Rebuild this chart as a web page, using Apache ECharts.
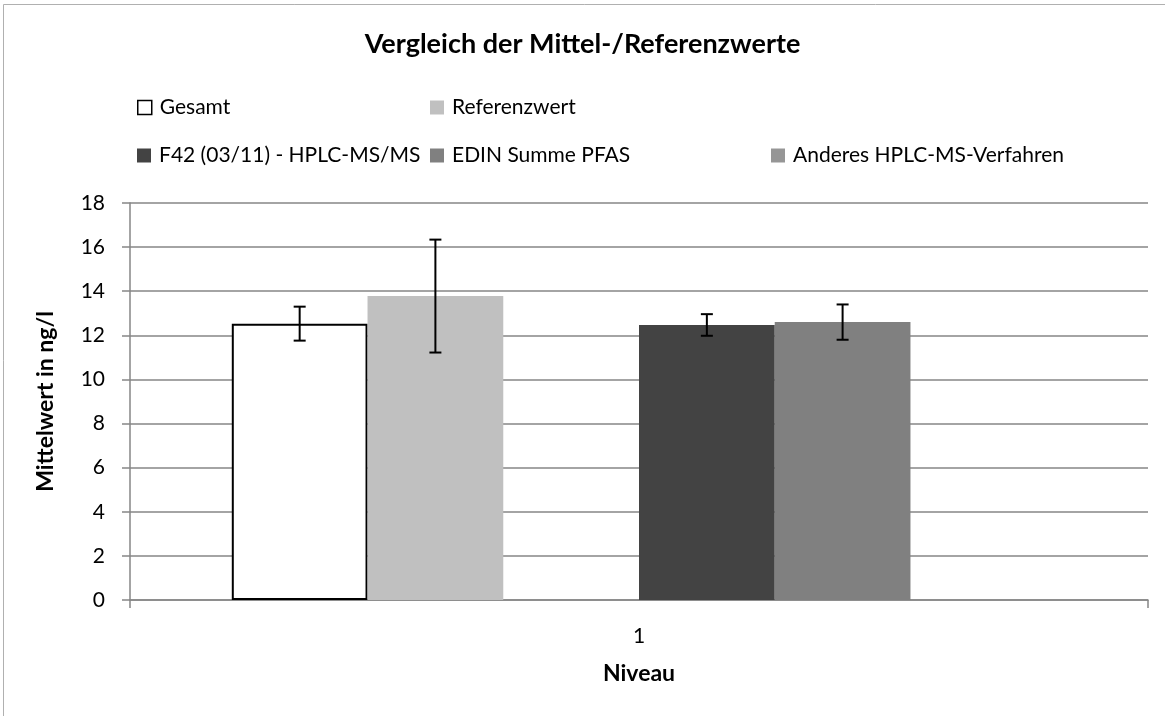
<!DOCTYPE html>
<html>
<head>
<meta charset="utf-8">
<script src="https://cdn.jsdelivr.net/npm/echarts@6/dist/echarts.min.js"></script>
<style>
html,body{margin:0;padding:0;background:#fff;}
#chart{width:1165px;height:716px;}
</style>
</head>
<body>
<div id="chart"></div>
<script>
// ---- data ----
var categories = ['1'];
var seriesNames = ['Gesamt', 'Referenzwert', '', 'F42 (03/11) - HPLC-MS/MS', 'EDIN Summe PFAS', 'Anderes HPLC-MS-Verfahren'];
var gesamtValues = [12.53];
var referenzValues = [13.78];
var hiddenValues = [null];
var f42Values = [12.47];
var edinValues = [12.6];
var anderesValues = [null];
var gesamtErrors = [0.77];
var referenzErrors = [2.56];
var f42Errors = [0.49];
var edinErrors = [0.8];
var anderesErrors = [null];
var yTicks = [0, 2, 4, 6, 8, 10, 12, 14, 16, 18];

var allValues = [gesamtValues, referenzValues, hiddenValues, f42Values, edinValues, anderesValues];
var allErrors = [gesamtErrors, referenzErrors, null, f42Errors, edinErrors, anderesErrors];
var colors = ['#ffffff', '#c0c0c0', '#ffffff', '#434343', '#808080', '#969696'];

var FONT = 'Lato';
var nSlots = seriesNames.length;
var catGap = 0.2;

var series = [];
for (var i = 0; i < nSlots; i++) {
  var s = {
    name: seriesNames[i],
    type: 'bar',
    data: allValues[i],
    barGap: '0%',
    barCategoryGap: '20%',
    itemStyle: { color: colors[i], borderWidth: 0 },
    emphasis: { disabled: true },
    z: 2
  };
  if (i === 0) s.itemStyle = { color: '#ffffff', borderColor: '#000000', borderWidth: 2 };
  series.push(s);
}

// error bars data built from arrays
var errData = [];
for (var i = 0; i < nSlots; i++) {
  if (!allErrors[i]) continue;
  for (var c = 0; c < categories.length; c++) {
    if (allValues[i][c] == null || allErrors[i][c] == null) continue;
    errData.push([c, allValues[i][c], allErrors[i][c], i]);
  }
}
series.push({
  type: 'custom',
  name: 'err',
  data: errData,
  z: 10,
  silent: true,
  renderItem: function (params, api) {
    var c = api.value(0), v = api.value(1), e = api.value(2), slot = api.value(3);
    var center = api.coord([c, v]);
    var band = api.size([1, 0])[0];
    var barW = band * (1 - catGap) / nSlots;
    var x = center[0] - band * (1 - catGap) / 2 + (slot + 0.5) * barW;
    var top = api.coord([c, v + e])[1];
    var bot = api.coord([c, v - e])[1];
    var cap = 6;
    var st = { stroke: '#000', lineWidth: 2 };
    return {
      type: 'group',
      children: [
        { type: 'line', shape: { x1: x, y1: top, x2: x, y2: bot }, style: st },
        { type: 'line', shape: { x1: x - cap, y1: top, x2: x + cap, y2: top }, style: st },
        { type: 'line', shape: { x1: x - cap, y1: bot, x2: x + cap, y2: bot }, style: st }
      ]
    };
  }
});

function mkLegend(idx, left, top) {
  var item = { name: seriesNames[idx] };
  if (idx === 0) item.itemStyle = { color: '#ffffff', borderColor: '#000', borderWidth: 1.5 };
  else item.itemStyle = { color: colors[idx], borderWidth: 0 };
  return {
    data: [item],
    left: left, top: top,
    padding: 0,
    itemWidth: 14, itemHeight: 14,
    icon: 'rect',
    selectedMode: false,
    textStyle: { fontFamily: FONT, fontSize: 21, color: '#000', padding: [0, 0, 0, 3] }
  };
}

var chart = echarts.init(document.getElementById('chart'), null, { renderer: 'canvas' });
chart.setOption({
  backgroundColor: '#ffffff',
  animation: false,
  title: {
    text: 'Vergleich der Mittel-/Referenzwerte',
    left: 'center', top: 31, padding: 0,
    textStyle: { fontFamily: FONT, fontSize: 27, fontWeight: 'bold', color: '#000' }
  },
  legend: [
    mkLegend(0, 137, 97),
    mkLegend(1, 430, 97),
    mkLegend(3, 137, 145),
    mkLegend(4, 430, 145),
    mkLegend(5, 771, 145)
  ],
  graphic: [{
    type: 'rect', shape: { x: 3.5, y: 4.5, width: 1200, height: 800 },
    style: { fill: null, stroke: '#b0b0b0', lineWidth: 1 }, z: -1, silent: true
  }],
  grid: { left: 130, right: 17, top: 203, bottom: 116, containLabel: false },
  xAxis: {
    type: 'category',
    data: categories,
    name: 'Niveau',
    nameLocation: 'middle',
    nameGap: 62,
    nameTextStyle: { fontFamily: FONT, fontSize: 23, fontWeight: 'bold', color: '#000' },
    axisLine: { lineStyle: { color: '#868686', width: 1.5 } },
    axisTick: { show: true, length: 8, lineStyle: { color: '#868686', width: 1.5 } },
    axisLabel: { fontFamily: FONT, fontSize: 21, color: '#000', margin: 26 },
    splitLine: { show: false }
  },
  yAxis: {
    type: 'value',
    min: yTicks[0], max: yTicks[yTicks.length - 1], interval: yTicks[1] - yTicks[0],
    name: 'Mittelwert in ng/l',
    nameLocation: 'middle',
    nameRotate: 90,
    nameGap: 73,
    nameTextStyle: { fontFamily: FONT, fontSize: 23, fontWeight: 'bold', color: '#000' },
    axisLine: { show: true, lineStyle: { color: '#868686', width: 1.5 } },
    axisTick: { show: true, length: 8, lineStyle: { color: '#868686', width: 1.5 } },
    axisLabel: { fontFamily: FONT, fontSize: 21, color: '#000', margin: 25 },
    splitLine: { lineStyle: { color: '#868686', width: 1.5 } }
  },
  series: series
});
</script>
</body>
</html>
